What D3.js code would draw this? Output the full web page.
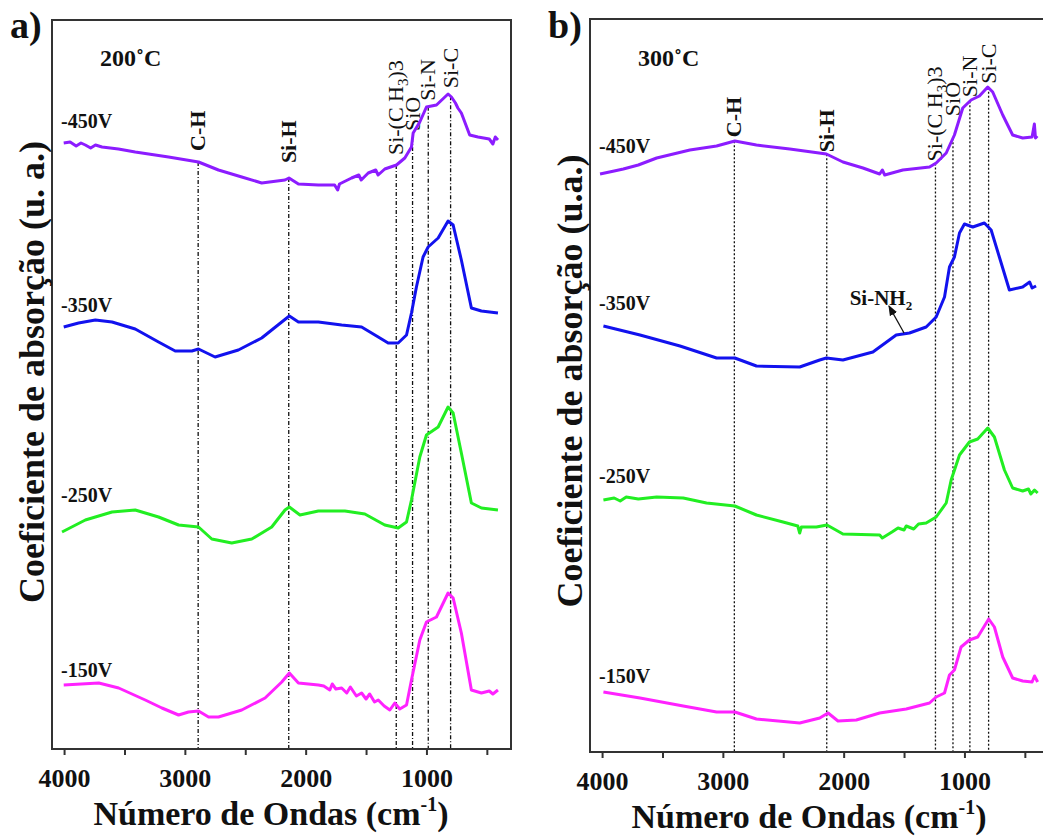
<!DOCTYPE html>
<html>
<head>
<meta charset="utf-8">
<script src="https://cdn.jsdelivr.net/npm/d3@7"></script>
<style>
body { margin: 0; background: #fff; }
svg text { font-family: "Liberation Serif", "Times New Roman", serif; fill: #111; }
</style>
</head>
<body>
<div id="viz"></div>
<script>
// FTIR spectra, [wavenumber (cm-1), absorption (a.u., offset per curve)]
const a450 = [[4003,606],[3950,607],[3900,603],[3860,606],[3824,604],[3780,601],[3740,604],[3686,602],[3550,600],[3411,597],[3135,592],[2887,587],[2722,579],[2529,572],[2364,566],[2171,569],[2138,571],[2060,565],[1895,564],[1760,564],[1735,559],[1720,565],[1620,571],[1560,574],[1540,569],[1482,576],[1420,579],[1400,574],[1345,580],[1248,584],[1179,591],[1124,602],[1110,616],[1055,627],[1000,642],[917,644],[821,655],[793,652],[760,646],[740,641],[711,636],[642,614],[573,612],[480,610],[450,605],[430,612],[408,609]];
const a350 = [[4003,422],[3880,426],[3741,429],[3603,427],[3411,420],[3218,407],[3080,398],[2942,398],[2887,400],[2750,392],[2557,399],[2364,411],[2198,427],[2135,433],[2060,427],[1895,427],[1702,424],[1537,422],[1399,412],[1317,406],[1234,406],[1165,414],[1124,436],[1083,462],[1028,492],[986,502],[903,511],[821,528],[779,524],[711,489],[628,441],[545,438],[408,436]];
const a250 = [[4017,217],[3824,229],[3603,237],[3411,239],[3218,232],[3052,224],[2887,222],[2777,210],[2612,206],[2446,210],[2281,222],[2171,239],[2135,242],[2047,234],[1895,238],[1675,238],[1510,235],[1345,224],[1234,221],[1165,227],[1124,249],[1055,292],[1000,314],[903,322],[821,342],[779,336],[711,296],[628,246],[545,241],[408,239]];
const a150 = [[4003,64],[3713,66],[3548,61],[3328,49],[3190,41],[3052,34],[2970,37],[2887,38],[2804,32],[2722,32],[2529,39],[2336,51],[2198,67],[2135,76],[2060,66],[1895,64],[1850,63],[1800,59],[1780,65],[1750,60],[1702,61],[1660,56],[1630,62],[1580,53],[1537,56],[1500,50],[1470,55],[1430,47],[1399,49],[1350,43],[1303,39],[1262,46],[1221,40],[1165,44],[1124,69],[1055,109],[1000,127],[917,132],[821,156],[779,151],[711,116],[628,59],[545,56],[480,58],[450,55],[408,59]];

const b450 = [[4017,578],[3900,581],[3824,583],[3700,587],[3548,594],[3273,602],[3052,606],[2901,611],[2722,607],[2446,603],[2143,598],[2006,590],[1840,584],[1702,578],[1680,582],[1660,577],[1510,582],[1289,585],[1234,589],[1151,599],[1083,617],[1014,644],[945,652],[876,656],[807,665],[766,660],[683,637],[601,617],[518,614],[440,615],[421,628],[412,614],[397,616]];
const b350 = [[3989,426],[3686,417],[3355,406],[3052,394],[2901,394],[2722,386],[2364,385],[2198,392],[2143,394],[2006,392],[1758,400],[1565,417],[1455,419],[1317,425],[1234,435],[1165,455],[1124,485],[1083,495],[1041,519],[1000,528],[931,525],[835,529],[779,522],[711,495],[628,462],[518,465],[460,470],[440,464],[407,466]];
const b250 = [[3989,252],[3900,254],[3850,251],[3800,255],[3700,253],[3548,255],[3328,254],[3135,249],[2901,246],[2722,237],[2502,230],[2380,226],[2364,219],[2350,225],[2226,225],[2138,227],[2006,218],[1702,217],[1680,214],[1600,220],[1550,224],[1500,222],[1482,226],[1420,223],[1380,228],[1317,229],[1234,235],[1151,249],[1110,272],[1041,297],[959,310],[890,313],[807,324],[752,315],[669,282],[601,264],[518,261],[470,263],[450,258],[420,262],[394,259]];
const b150 = [[3989,60],[3686,54],[3328,46],[3052,40],[2901,40],[2722,33],[2364,29],[2198,34],[2129,39],[2047,31],[1895,32],[1702,39],[1482,43],[1289,49],[1234,55],[1165,59],[1124,77],[1083,82],[1028,105],[959,112],[890,115],[799,133],[752,125],[683,95],[601,74],[518,71],[440,70],[420,76],[394,70]];

const voltages = ["-450V", "-350V", "-250V", "-150V"];
const seriesColors = ["#8c1cff", "#1212ee", "#22ee22", "#ff22ff"];
const tickValues = [4000, 3500, 3000, 2500, 2000, 1500, 1000, 500];
const tickLabels = [4000, 3000, 2000, 1000];
const peakNames = ["C-H", "Si-H", "Si-(CH3)3", "SiO", "Si-N", "Si-C"];
const peaksA = [2890, 2140, 1250, 1115, 985, 800];
const peaksB = [2905, 2140, 1240, 1095, 955, 800];

const width = 1043, height = 839;
const svg = d3.select("#viz").append("svg").attr("width", width).attr("height", height);

svg.append("defs").append("marker")
  .attr("id", "arrow").attr("viewBox", "0 0 10 10").attr("refX", 9).attr("refY", 5)
  .attr("markerWidth", 8).attr("markerHeight", 8).attr("orient", "auto-start-reverse")
  .append("path").attr("d", "M0,1 L10,5 L0,9 z").attr("fill", "#111");

function valueAt(series, wn) {
  for (let i = 0; i < series.length - 1; i++) {
    const [x0, v0] = series[i], [x1, v1] = series[i + 1];
    if (wn <= x0 && wn >= x1) return v0 + (v1 - v0) * (x0 - wn) / (x0 - x1);
  }
  return series[0][1];
}

function drawPanel(p) {
  const g = svg.append("g");
  const x = d3.scaleLinear().domain([4100, 300]).range([p.left, p.left + 459]);
  const y = d3.scaleLinear().domain([0, 730]).range([p.bottom, p.bottom - 730]);

  // peak guide lines
  p.peaks.forEach((wn, i) => {
    const yTop = y(valueAt(p.series[0], wn));
    g.append("line")
      .attr("x1", x(wn)).attr("x2", x(wn)).attr("y1", yTop).attr("y2", p.bottom)
      .attr("stroke", "#111").attr("stroke-width", 1.3).attr("stroke-dasharray", p.dash);
    const t = g.append("text")
      .attr("transform", `translate(${x(wn) + 7},${yTop - p.gaps[i]}) rotate(-90)`)
      .style("font-size", "22px").style("font-weight", i < 2 ? "bold" : "normal");
    if (peakNames[i] === "Si-(CH3)3") {
      t.append("tspan").text("Si-(C H");
      t.append("tspan").text("3").attr("dy", 5).style("font-size", "15px");
      t.append("tspan").text(")3").attr("dy", -5);
    } else {
      t.text(peakNames[i]);
    }
  });

  const line = d3.line().x(d => x(d[0])).y(d => y(d[1]));
  p.series.forEach((s, i) => {
    g.append("path").datum(s).attr("d", line)
      .attr("fill", "none").attr("stroke", seriesColors[i])
      .attr("stroke-width", 3).attr("stroke-linejoin", "round");
    g.append("text").attr("x", p.left + 9).attr("y", y(p.labelV[i]))
      .style("font-size", "20px").style("font-weight", "bold").text(voltages[i]);
  });

  // frame
  g.append("rect").attr("x", p.left).attr("y", p.top)
    .attr("width", 459).attr("height", p.bottom - p.top)
    .attr("fill", "none").attr("stroke", "#333").attr("stroke-width", 2);

  const ax = g.append("g").attr("transform", `translate(0,${p.bottom})`)
    .call(d3.axisBottom(x).tickValues(tickValues).tickSize(6)
      .tickFormat(d => tickLabels.includes(d) ? d : ""));
  ax.select(".domain").remove();
  ax.selectAll("line").attr("stroke", "#333").attr("stroke-width", 2);
  ax.selectAll("text").attr("y", 38).attr("dy", 0)
    .style("font-size", "26px").style("font-weight", "bold");

  g.append("text").attr("x", p.left - 42).attr("y", 38)
    .style("font-size", "38px").style("font-weight", "bold").text(p.letter);
  g.append("text").attr("x", p.left + 48).attr("y", 66)
    .style("font-size", "24px").style("font-weight", "bold").text(p.temp);

  g.append("text")
    .attr("transform", `translate(${p.left - 8},${p.yLabelY}) rotate(-90)`)
    .attr("text-anchor", "middle").style("font-size", "36px").style("font-weight", "bold")
    .text(p.yLabel);

  const xl = g.append("text").attr("x", p.left + 219).attr("y", p.bottom + 76)
    .attr("text-anchor", "middle").style("font-size", "34px").style("font-weight", "bold");
  xl.append("tspan").text("Número de Ondas (cm");
  xl.append("tspan").text("-1").attr("dy", -14).style("font-size", "20px");
  xl.append("tspan").text(")").attr("dy", 14);

  return { x, y, g };
}

drawPanel({
  left: 52, top: 20, bottom: 749, series: [a450, a350, a250, a150],
  peaks: peaksA, gaps: [11, 15, 10, 7, 6, 8], dash: "4,2,1,2",
  labelV: [621, 437, 247, 72], letter: "a)", temp: "200˚C",
  yLabel: "Coeficiente de absorção (u. a.)", yLabelY: 372
});

const pb = drawPanel({
  left: 590, top: 19, bottom: 752, series: [b450, b350, b250, b150],
  peaks: peaksB, gaps: [4, 2, 2, 22, 4, 4], dash: "2,2",
  labelV: [599, 442, 269, 69], letter: "b)", temp: "300˚C",
  yLabel: "Coeficiente de absorção (u.a.)", yLabelY: 381
});

// Si-NH2 annotation on the -350V, 300 C curve
pb.g.append("line")
  .attr("x1", pb.x(1500)).attr("y1", pb.y(419))
  .attr("x2", pb.x(1625)).attr("y2", pb.y(446))
  .attr("stroke", "#111").attr("stroke-width", 1.3).attr("marker-end", "url(#arrow)");
const nh = pb.g.append("text").attr("x", pb.x(1950)).attr("y", pb.y(447))
  .style("font-size", "21px").style("font-weight", "bold");
nh.append("tspan").text("Si-NH");
nh.append("tspan").text("2").attr("dy", 5).style("font-size", "13px");
</script>
</body>
</html>
